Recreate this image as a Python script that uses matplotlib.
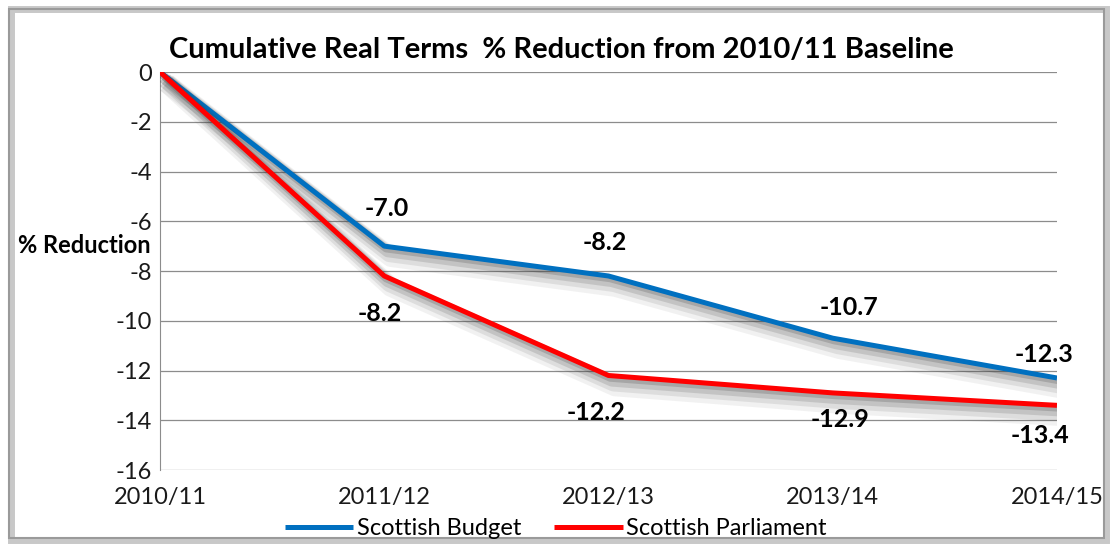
import matplotlib
matplotlib.use("Agg")
import matplotlib.pyplot as plt
import matplotlib.patheffects as pe
from matplotlib.patches import Rectangle

# data
years = ["2010/11", "2011/12", "2012/13", "2013/14", "2014/15"]
budget = [0, -7.0, -8.2, -10.7, -12.3]
parliament = [0, -8.2, -12.2, -12.9, -13.4]
budget_labels = ["", "-7.0", "-8.2", "-10.7", "-12.3"]
parliament_labels = ["", "-8.2", "-12.2", "-12.9", "-13.4"]

plt.rcParams['font.family'] = ['Lato', 'DejaVu Sans']
plt.rcParams['axes.unicode_minus'] = False

fig = plt.figure(figsize=(11.12, 5.48), dpi=100)
ax = fig.add_axes([0.1439, 0.1423, 0.8066, 0.7263])

# outer frame with a soft shadow
fig.patches.append(Rectangle((0.010, 0.014), 0.985, 0.970, transform=fig.transFigure,
                             facecolor='none', edgecolor='#c8c8c8', linewidth=5, zorder=0))
fig.patches.append(Rectangle((0.008, 0.018), 0.985, 0.965, transform=fig.transFigure,
                             facecolor='none', edgecolor='#9a9a9a', linewidth=1.5, zorder=1))

# fake blurred shadow: stack of offset grey strokes
shadow = []
for off, lw, a in [(8, 14, 0.07), (6, 11, 0.11), (4, 8, 0.16), (2, 5, 0.22)]:
    shadow.append(pe.SimpleLineShadow(offset=(off * 0.6, -off), shadow_color='#404040',
                                      alpha=a, linewidth=lw))
shadow.append(pe.Normal())

x = range(len(years))
ax.plot(x, budget, color='#0070c0', linewidth=3.6, solid_capstyle='butt',
        path_effects=shadow, label='Scottish Budget', zorder=4)
ax.plot(x, parliament, color='#ff0000', linewidth=3.6, solid_capstyle='butt',
        path_effects=shadow, label='Scottish Parliament', zorder=5)

# data labels (offsets in points)
b_off = [(0, 0), (2, 27), (-3, 24), (12, 22), (-9, 17)]
p_off = [(0, 0), (-3, -27), (-9, -27), (5, -19), (-12, -22)]
for i in range(1, len(years)):
    ax.annotate(budget_labels[i], (i, budget[i]), xytext=b_off[i], textcoords='offset points',
                ha='center', va='center', fontsize=18, fontweight='bold', color='black',
                zorder=6)
    ax.annotate(parliament_labels[i], (i, parliament[i]), xytext=p_off[i],
                textcoords='offset points', ha='center', va='center', fontsize=18,
                fontweight='bold', color='black', zorder=6)

ax.set_xlim(0, len(years) - 1)
ax.set_ylim(-16, 0)
ax.set_yticks(range(-16, 1, 2))
ax.set_xticks(list(x))
ax.set_xticklabels(years)
ax.grid(axis='y', color='#8c8c8c', linewidth=0.9)
ax.grid(axis='x', visible=False)
ax.set_axisbelow(True)
for s in ['top', 'right', 'bottom']:
    ax.spines[s].set_visible(False)
ax.spines['left'].set_color('#8c8c8c')
ax.tick_params(axis='both', length=0, labelsize=17, colors='#1a1a1a', pad=6)
ax.tick_params(axis='x', pad=12)

fig.text(0.505, 0.908, "Cumulative Real Terms  % Reduction from 2010/11 Baseline",
         ha='center', va='center', fontsize=21, fontweight='bold')
fig.text(0.076, 0.552, "% Reduction", ha='center', va='center', fontsize=17,
         fontweight='bold')

fig.legend(loc='center', bbox_to_anchor=(0.50, 0.036), ncol=2, frameon=False,
           fontsize=17, handlelength=2.9, columnspacing=1.4, handletextpad=0.15)
leg = fig.legends[0]
for line in leg.get_lines():
    line.set_path_effects([])
    line.set_linewidth(3.6)

fig.savefig("out.png", dpi=100)
